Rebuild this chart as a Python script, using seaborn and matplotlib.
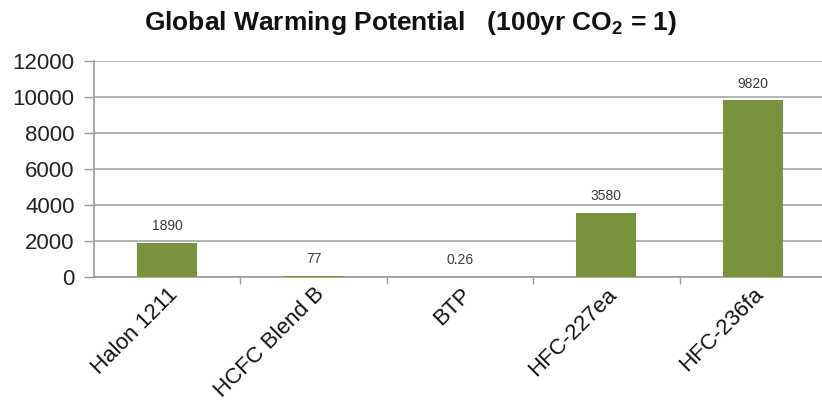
import matplotlib
matplotlib.use("Agg")
import matplotlib.pyplot as plt
from matplotlib.ticker import FixedLocator
import seaborn as sns
import pandas as pd

agents = ["Halon 1211", "HCFC Blend B", "BTP", "HFC-227ea", "HFC-236fa"]
gwp = [1890, 77, 0.26, 3580, 9820]
gwp_labels = ["1890", "77", "0.26", "3580", "9820"]
y_ticks = [0, 2000, 4000, 6000, 8000, 10000, 12000]

sns.set_theme(style="white")
plt.rcParams["font.family"] = ["Liberation Sans", "DejaVu Sans"]

df = pd.DataFrame({"agent": agents, "gwp": gwp})

fig = plt.figure(figsize=(8.22, 4.15), dpi=100)
ax = fig.add_axes([94 / 822, 138 / 415, 732 / 822, 216 / 415])

sns.barplot(data=df, x="agent", y="gwp", color="#77933C", saturation=1,
            width=0.41, linewidth=0, ax=ax, zorder=3)

ax.set_xlim(-0.5, 4.5)
ax.set_ylim(0, 12000)
ax.set_yticks(y_ticks)
ax.yaxis.grid(True, color="#a6a6a6", linewidth=1.2, zorder=0)
ax.set_axisbelow(True)

for s in ["top", "right"]:
    ax.spines[s].set_visible(False)
for s in ["left", "bottom"]:
    ax.spines[s].set_color("#9a9a9a")
    ax.spines[s].set_linewidth(1.2)

ax.tick_params(axis="y", which="major", left=True, length=7, width=1,
               color="#9a9a9a", labelsize=16, labelcolor="#222222", pad=7)
ax.tick_params(axis="x", which="major", length=0, labelsize=16,
               labelcolor="#111111", pad=5)
ax.xaxis.set_minor_locator(FixedLocator([0.5, 1.5, 2.5, 3.5]))
ax.tick_params(axis="x", which="minor", bottom=True, length=5, width=1,
               color="#9a9a9a")

ax.set_xticks(range(len(agents)))
ax.set_xticklabels(agents, rotation=45, ha="right", rotation_mode="anchor")

for i, (v, lab) in enumerate(zip(gwp, gwp_labels)):
    ax.annotate(lab, (i, v), xytext=(0, 7), textcoords="offset points",
                ha="center", va="bottom", fontsize=10, color="#3a3a3a")

ax.set_xlabel("")
ax.set_ylabel("")

fig.text(0.5, 0.945, r"Global Warming Potential   (100yr CO$_\mathregular{2}$ = 1)",
         ha="center", va="center", fontsize=19, fontweight="bold",
         color="#111111")

fig.savefig("out.png", dpi=100)
